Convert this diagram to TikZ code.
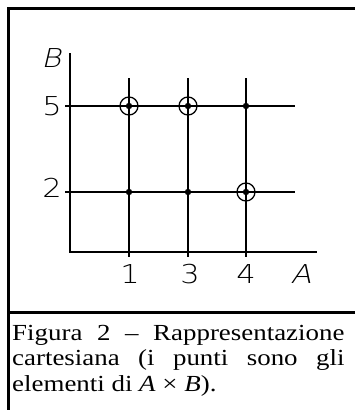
\documentclass[tikz,border=0pt]{standalone}
\usepackage{fontspec}
\setmainfont{Liberation Serif}
\IfFontExistsTF{DejaVu Sans ExtraLight}
  {\newfontfamily\axfont{DejaVu Sans ExtraLight}[AutoFakeSlant=0.2]}
  {\newfontfamily\axfont{Liberation Sans}}
\usepackage{tikz}
\usetikzlibrary{positioning}
\newcommand{\wide}[2][1.17]{\scalebox{#1}[1]{#2}}
\tikzset{
  frameline/.style={line width=2.5pt},
  gridline/.style={line width=1.5pt},
  axlabel/.style={font=\axfont\fontsize{26}{26}\selectfont, inner sep=0pt},
  caption/.style={font=\fontsize{23}{26}\selectfont, inner sep=0pt, anchor=base west}
}
\begin{document}
\begin{tikzpicture}[x=1pt,y=-1pt]
\useasboundingbox (0,0) rectangle (355,410);
% frame and rule above the caption
\draw[frameline] (8.7,410) -- (8.7,8.7) -- (355,8.7);
\draw[frameline] (8.7,312.5) -- (355,312.5);
% axes
\draw[gridline] (70,53) -- (70,252) -- (317,252);
\foreach \x in {129,188,246}
  \draw[gridline] (\x,78) -- (\x,257);
\foreach \y in {106,192}
  \draw[gridline] (65,\y) -- (295,\y);
% points of A x B
\foreach \x in {129,188,246}
  \foreach \y in {106,192}
    \fill (\x,\y) circle (3.2pt);
\foreach \p in {(129,106),(188,106),(246,192)}
  \draw[line width=1.3pt] \p circle (9pt);
% labels
\node[axlabel] (labB) at (51,58) {\wide{\itshape B}};
\node[axlabel] (lab5) at (52,106) {\wide{5}};
\node[axlabel] (lab2) at (52,188) {\wide{2}};
\node[axlabel] (lab1) at (130,274) {\wide{1}};
\node[axlabel] (lab3) at (190,274) {\wide{3}};
\node[axlabel] (lab4) at (246,274) {\wide{4}};
\node[axlabel] (labA) at (301,274) {\wide{\itshape A}};
% caption
\node[caption] (cap1) at (12,340) {\wide{\makebox[284pt][s]{Figura 2 – Rappresentazione}}};
\node[caption] (cap2) at (12,365.5) {\wide{\makebox[284pt][s]{cartesiana (i punti sono gli}}};
\node[caption] (cap3) at (12,391) {\wide{elementi di \textit{A} × \textit{B}).}};
\end{tikzpicture}
\end{document}
